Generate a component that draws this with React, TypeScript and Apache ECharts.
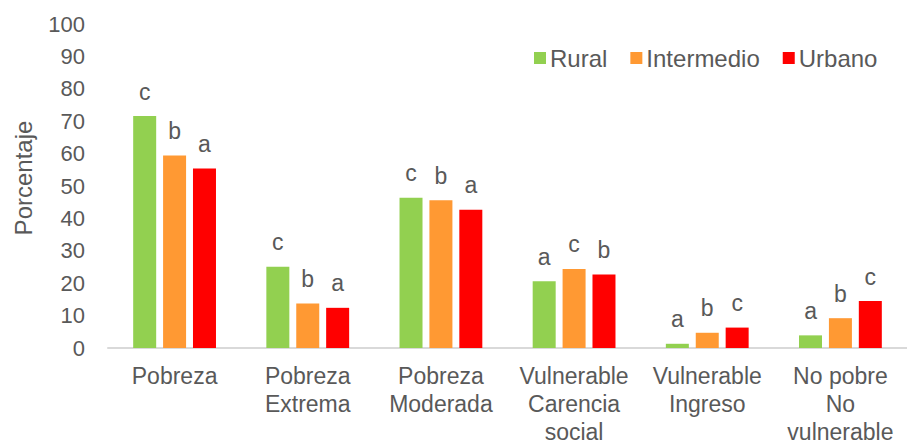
import React, { useEffect, useRef } from "react";
import * as echarts from "echarts";

const categories = [
  "Pobreza",
  "Pobreza\nExtrema",
  "Pobreza\nModerada",
  "Vulnerable\nCarencia\nsocial",
  "Vulnerable\nIngreso",
  "No pobre\nNo\nvulnerable",
];
const seriesNames = ["Rural", "Intermedio", "Urbano"];
const rural = [71.6, 25.1, 46.4, 20.6, 1.3, 3.9];
const intermedio = [59.4, 13.7, 45.6, 24.4, 4.7, 9.2];
const urbano = [55.4, 12.4, 42.7, 22.7, 6.3, 14.5];
const ruralLetters = ["c", "c", "c", "a", "a", "a"];
const intermedioLetters = ["b", "b", "b", "c", "b", "b"];
const urbanoLetters = ["a", "a", "a", "b", "c", "c"];
const colors = ["#92D050", "#FF9933", "#FF0000"];

const TEXT = "#595959";
const FONT = "'Liberation Sans', Arial, sans-serif";

export default function App() {
  const ref = useRef<HTMLDivElement>(null);
  useEffect(() => {
    document.body.style.margin = "0";
    if (!ref.current) return;
    const chart = echarts.init(ref.current, null, { renderer: "svg" });
    const mk = (name: string, data: number[], letters: string[], color: string) => ({
      name,
      type: "bar",
      data,
      barWidth: 23,
      barGap: "30%",
      itemStyle: { color },
      label: {
        show: true,
        position: "top",
        distance: 13,
        formatter: (p: any) => letters[p.dataIndex],
        color: TEXT,
        fontSize: 23,
        fontFamily: FONT,
      },
    });
    chart.setOption({
      animation: false,
      textStyle: { fontFamily: FONT },
      grid: { left: 108, top: 24, width: 809, height: 327, containLabel: false },
      legend: {
        left: 529,
        top: 41,
        itemWidth: 12,
        itemHeight: 12,
        itemGap: 23,
        icon: "rect",
        textStyle: { color: TEXT, fontSize: 24, fontFamily: FONT, padding: [0, 0, 0, -1] },
        data: seriesNames,
      },
      xAxis: {
        type: "category",
        data: categories,
        axisLine: { lineStyle: { color: "#D9D9D9", width: 2 } },
        axisTick: { show: false },
        axisLabel: {
          color: TEXT,
          fontSize: 23,
          fontFamily: FONT,
          lineHeight: 28,
          margin: 14,
          interval: 0,
        },
      },
      yAxis: {
        type: "value",
        min: 0,
        max: 100,
        interval: 10,
        splitLine: { show: false },
        axisLine: { show: false },
        axisTick: { show: false },
        axisLabel: { color: TEXT, fontSize: 22, fontFamily: FONT, margin: 23 },
      },
      graphic: [
        {
          type: "text",
          x: 23,
          y: 178,
          rotation: Math.PI / 2,
          style: {
            text: "Porcentaje",
            fill: TEXT,
            fontSize: 24,
            fontFamily: FONT,
            textAlign: "center",
            textVerticalAlign: "middle",
          },
        },
      ],
      series: [
        mk(seriesNames[0], rural, ruralLetters, colors[0]),
        mk(seriesNames[1], intermedio, intermedioLetters, colors[1]),
        mk(seriesNames[2], urbano, urbanoLetters, colors[2]),
      ],
    });
    return () => chart.dispose();
  }, []);
  return <div ref={ref} style={{ width: 907, height: 446 }} />;
}
